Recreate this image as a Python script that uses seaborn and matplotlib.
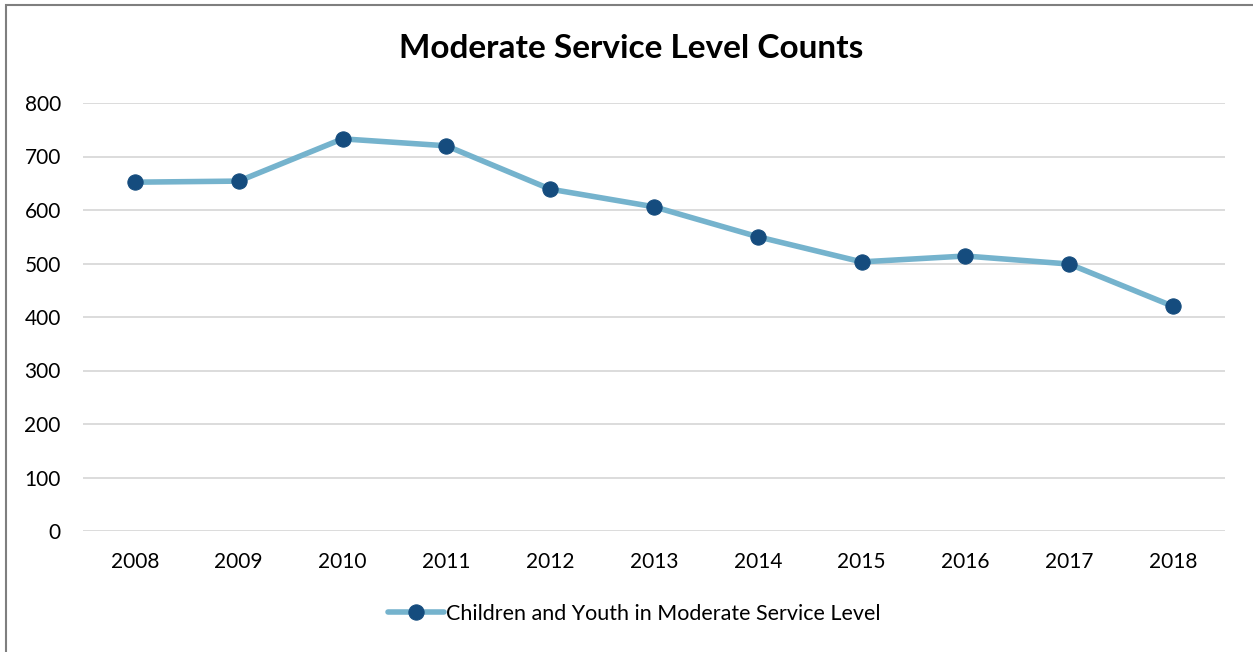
import matplotlib
matplotlib.use("Agg")
import matplotlib.pyplot as plt
import seaborn as sns
import pandas as pd
from matplotlib.patches import Rectangle

years = ["2008", "2009", "2010", "2011", "2012", "2013", "2014", "2015", "2016", "2017", "2018"]
counts = [652, 654, 733, 720, 639, 606, 550, 503, 514, 499, 420]
series_name = "Children and Youth in Moderate Service Level"
title = "Moderate Service Level Counts"

sns.set_theme(style="white")
plt.rcParams["font.family"] = ["Lato", "DejaVu Sans"]
plt.rcParams["text.color"] = "black"

W, H = 1253, 652
fig = plt.figure(figsize=(W / 100, H / 100), dpi=100)
ax = fig.add_axes([83 / W, 1 - 531 / H, (1225 - 83) / W, (531 - 103) / H])

df = pd.DataFrame({"Year": years, "Count": counts})
sns.lineplot(data=df, x="Year", y="Count", ax=ax, color="#75b3cd", linewidth=4,
             marker="o", markersize=11, markerfacecolor="#154c7e",
             markeredgecolor="#154c7e", label=series_name, sort=False)

ax.set_xlim(-0.5, len(years) - 0.5)
ax.set_ylim(0, 800)
ax.set_yticks(range(0, 801, 100))
ax.grid(axis="y", color="#d9d9d9", linewidth=1.3)
ax.grid(axis="x", visible=False)
for s in ax.spines.values():
    s.set_visible(False)
ax.tick_params(axis="both", length=0, labelsize=15, colors="black")
ax.tick_params(axis="x", pad=15)
ax.tick_params(axis="y", pad=16)
ax.set_xlabel("")
ax.set_ylabel("")

fig.text(631 / W, 1 - 48 / H, title, ha="center", va="center", fontsize=24,
         fontweight="bold", color="black")

leg = ax.legend(loc="center", bbox_to_anchor=((634 - 83) / (1225 - 83), -(614 - 531) / (531 - 103)),
                frameon=False, fontsize=15.5, handlelength=2.6, handletextpad=0.1)
for t in leg.get_texts():
    t.set_color("black")

fig.patches.append(Rectangle((6 / W, -0.05), 1.2, 1 - 5 / H + 0.05, transform=fig.transFigure,
                             fill=False, edgecolor="#7f7f7f", linewidth=1.5))

fig.savefig("out.png", dpi=100)
